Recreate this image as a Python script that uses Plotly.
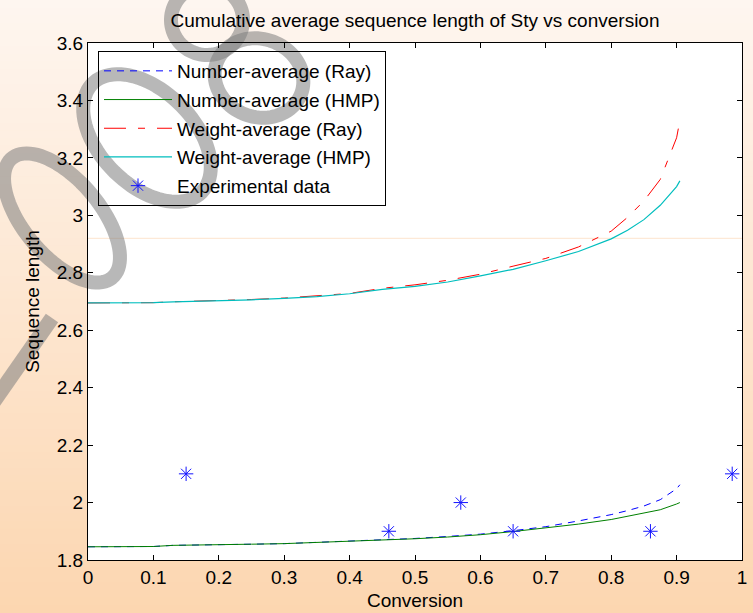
import numpy as np
import plotly.graph_objects as go

# ---- data -------------------------------------------------------------
conversion = [0, 0.05, 0.1, 0.13, 0.2, 0.25, 0.3, 0.35, 0.4, 0.45, 0.5, 0.55,
              0.6, 0.65, 0.7, 0.75, 0.8, 0.825, 0.85, 0.875, 0.9, 0.905]

num_avg_ray = [1.846, 1.846, 1.847, 1.851, 1.852, 1.855, 1.857, 1.861, 1.865,
               1.869, 1.875, 1.882, 1.890, 1.902, 1.916, 1.936, 1.958, 1.972,
               1.988, 2.010, 2.048, 2.062]
num_avg_hmp = [1.846, 1.846, 1.847, 1.851, 1.852, 1.855, 1.857, 1.861, 1.865,
               1.869, 1.874, 1.880, 1.888, 1.899, 1.911, 1.925, 1.941, 1.952,
               1.962, 1.975, 1.995, 2.000]
wt_avg_ray = [2.695, 2.695, 2.696, 2.699, 2.703, 2.707, 2.712, 2.719, 2.728,
              2.746, 2.758, 2.774, 2.795, 2.823, 2.850, 2.890, 2.945, 2.993,
              3.050, 3.125, 3.270, 3.330]
wt_avg_hmp = [2.695, 2.695, 2.696, 2.699, 2.702, 2.706, 2.711, 2.717, 2.727,
              2.742, 2.753, 2.768, 2.789, 2.812, 2.842, 2.874, 2.918, 2.948,
              2.985, 3.035, 3.100, 3.120]

exp_conversion = [0.15, 0.46, 0.57, 0.65, 0.86, 0.985]
exp_length = [2.1, 1.9, 2.0, 1.9, 1.9, 2.1]

x_tickvals = [0, 0.1, 0.2, 0.3, 0.4, 0.5, 0.6, 0.7, 0.8, 0.9, 1]
x_ticktext = ["0", "0.1", "0.2", "0.3", "0.4", "0.5", "0.6", "0.7", "0.8", "0.9", "1"]
y_tickvals = [1.8, 2.0, 2.2, 2.4, 2.6, 2.8, 3.0, 3.2, 3.4, 3.6]
y_ticktext = ["1.8", "2", "2.2", "2.4", "2.6", "2.8", "3", "3.2", "3.4", "3.6"]

# ---- page geometry ----------------------------------------------------
W, H = 753, 613
ML, MR, MT, MB = 88, 11, 43, 53
PW, PH = W - ML - MR, H - MT - MB
FONT = "Liberation Sans, Arial, sans-serif"
FS = 19


def px_to_paper(px, py):
    return (px - ML) / PW, (H - MB - py) / PH


shapes = []

# vertical warm gradient behind everything
top_rgb = np.array([254, 246, 240])
bot_rgb = np.array([252, 214, 176])
n_bands = 80
for i in range(n_bands):
    y0, y1 = H * i / n_bands, H * (i + 1) / n_bands + 0.6
    c = top_rgb + (bot_rgb - top_rgb) * (i + 0.5) / n_bands
    x0p, y0p = px_to_paper(0, y1)
    x1p, y1p = px_to_paper(W, y0)
    shapes.append(dict(type="rect", xref="paper", yref="paper",
                       x0=x0p, x1=x1p, y0=y0p, y1=y1p, layer="below",
                       line=dict(width=0),
                       fillcolor="rgb(%d,%d,%d)" % tuple(c.round().astype(int))))

# white axes area
shapes.append(dict(type="rect", xref="paper", yref="paper", x0=0, x1=1, y0=0, y1=1,
                   layer="below", line=dict(width=0), fillcolor="white"))

# faint reference line
shapes.append(dict(type="line", xref="paper", yref="y", x0=0, x1=1, y0=2.92, y1=2.92,
                   layer="below", line=dict(color="rgb(253,228,205)", width=1)))


# gray outlined ellipses and stroke of the background stamp
def ellipse_path(cx, cy, a, b, deg, n=90):
    th = np.radians(deg)
    t = np.linspace(0, 2 * np.pi, n)
    xs = cx + a * np.cos(t) * np.cos(th) - b * np.sin(t) * np.sin(th)
    ys = cy + a * np.cos(t) * np.sin(th) + b * np.sin(t) * np.cos(th)
    pts = [px_to_paper(x, y) for x, y in zip(xs, ys)]
    return "M " + " L ".join("%.5f,%.5f" % p for p in pts) + " Z"


stamp = "rgba(125,125,125,0.55)"
for cx, cy, a, b, deg in [(207, 20, 36, 35, 0),
                          (259, 78, 45, 39, 20),
                          (147, 138, 77, 47, 45),
                          (62, 218, 78, 38, 50)]:
    shapes.append(dict(type="path", xref="paper", yref="paper", layer="below",
                       path=ellipse_path(cx, cy, a, b, deg),
                       line=dict(color=stamp, width=14)))
sx0, sy0 = px_to_paper(-10, 407)
sx1, sy1 = px_to_paper(52, 318)
shapes.append(dict(type="line", xref="paper", yref="paper", layer="below",
                   x0=sx0, y0=sy0, x1=sx1, y1=sy1,
                   line=dict(color=stamp, width=15)))

# ---- traces -----------------------------------------------------------
fig = go.Figure()
fig.add_trace(go.Scatter(x=conversion, y=num_avg_ray, mode="lines",
                         name="Number-average (Ray)", legendgroup="a",
                         line=dict(color="rgb(0,0,255)", width=1, dash="7px,6px")))
fig.add_trace(go.Scatter(x=conversion, y=num_avg_hmp, mode="lines",
                         name="Number-average (HMP)", legendgroup="b",
                         line=dict(color="rgb(0,128,0)", width=1)))
fig.add_trace(go.Scatter(x=conversion, y=wt_avg_ray, mode="lines",
                         name="Weight-average (Ray)", legendgroup="c",
                         line=dict(color="rgb(255,0,0)", width=1,
                                   dash="22px,12px,7px,12px")))
fig.add_trace(go.Scatter(x=conversion, y=wt_avg_hmp, mode="lines",
                         name="Weight-average (HMP)", legendgroup="d",
                         line=dict(color="rgb(0,190,190)", width=1.2)))
fig.add_trace(go.Scatter(x=exp_conversion, y=exp_length, mode="markers",
                         name="Experimental data", legendgroup="e",
                         marker=dict(symbol="asterisk-open", size=12,
                                     color="rgb(20,20,255)",
                                     line=dict(color="rgb(20,20,255)", width=1))))

axis_common = dict(showline=True, linecolor="black", linewidth=1, mirror="ticks",
                   ticks="inside", ticklen=5, tickcolor="black", tickwidth=1,
                   showgrid=False, zeroline=False, automargin=False,
                   tickfont=dict(family=FONT, size=FS, color="black"))

fig.update_layout(
    width=W, height=H,
    margin=dict(l=ML, r=MR, t=MT, b=MB, pad=0),
    paper_bgcolor="rgb(253,232,212)", plot_bgcolor="rgba(0,0,0,0)",
    font=dict(family=FONT, size=FS, color="black"),
    title=dict(text="Cumulative average sequence length of Sty vs conversion",
               x=0.5, xref="paper", y=1 - 20 / H, yref="container",
               xanchor="center", yanchor="middle",
               font=dict(family=FONT, size=FS, color="black")),
    xaxis=dict(range=[0, 1], tickvals=x_tickvals, ticktext=x_ticktext,
               title=dict(text="Conversion", standoff=6,
                          font=dict(family=FONT, size=FS)),
               **axis_common),
    yaxis=dict(range=[1.8, 3.6], tickvals=y_tickvals, ticktext=y_ticktext,
               title=dict(text="Sequence length", standoff=12,
                          font=dict(family=FONT, size=FS)),
               **axis_common),
    legend=dict(x=(98 - ML) / PW, y=(H - MB - 51) / PH, xanchor="left", yanchor="top",
                bgcolor="rgba(0,0,0,0)", bordercolor="black", borderwidth=1,
                font=dict(family=FONT, size=FS, color="black"),
                traceorder="grouped", tracegroupgap=1, itemwidth=68),
    shapes=shapes,
    showlegend=True,
)

fig.write_html("out.html")
